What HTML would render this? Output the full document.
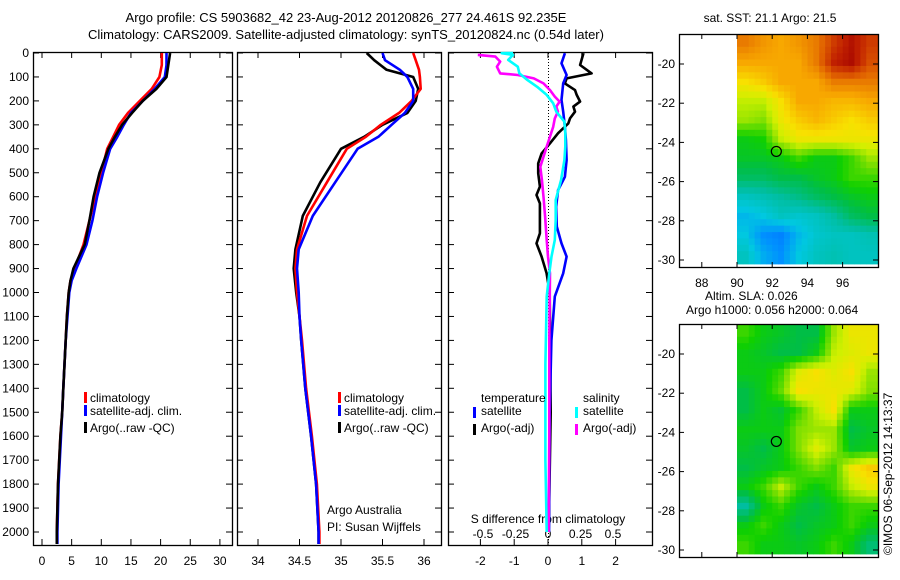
<!DOCTYPE html>
<html><head><meta charset="utf-8"><style>
body{margin:0;background:#fff;}
svg{display:block;font-family:"Liberation Sans",sans-serif;}
text{font-size:12px;fill:#000;}
</style></head><body>
<svg id="fig" width="900" height="580" viewBox="0 0 900 580" xmlns="http://www.w3.org/2000/svg">
<text x="346" y="22" text-anchor="middle" style="font-size:13px">Argo profile: CS 5903682_42 23-Aug-2012 20120826_277 24.461S 92.235E</text>
<text x="346" y="39" text-anchor="middle" style="font-size:13px">Climatology: CARS2009. Satellite-adjusted climatology: synTS_20120824.nc (0.54d later)</text>
<text x="770" y="22" text-anchor="middle">sat. SST: 21.1 Argo: 21.5</text>
<text x="705" y="300">Altim. SLA: 0.026</text>
<text x="686" y="314">Argo h1000: 0.056 h2000: 0.064</text>
<text transform="translate(892,555) rotate(-90)">©IMOS 06-Sep-2012 14:13:37</text>
<g id="g"></g>
</svg>
<script>
// ---------- data ----------
const depthTicks=[0,100,200,300,400,500,600,700,800,900,1000,1100,1200,1300,1400,1500,1600,1700,1800,1900,2000];
const tTicks=[0,5,10,15,20,25,30];
const sTicks=[34,34.5,35,35.5,36];
const dTicks=[-2,-1,0,1,2];
const sdTickLabels=['-0.5','-0.25','0','0.25','0.5'];
const sdTicks=[-0.5,-0.25,0,0.25,0.5];
const latTicks=[-20,-22,-24,-26,-28,-30];
const lonTicks=[88,90,92,94,96];

const tDepth=[0,50,100,150,200,250,300,350,400,500,600,700,800,900,950,1000,1100,1200,1300,1400,1500,1600,1700,1800,1900,2000,2050];
const tClim=[20.2,20.2,19.8,18.5,16.5,14.5,13,12,11,10,9,8,7,5.5,4.8,4.5,4.2,4,3.8,3.6,3.4,3.1,2.9,2.7,2.6,2.5,2.5];
const tSat=[21,21,20.7,19,17,15,13.8,12.7,11.5,10.3,9.3,8.5,7.5,5.8,5,4.6,4.3,4,3.8,3.6,3.4,3.2,3,2.8,2.7,2.6,2.6];
const tArgo=[21.6,21.3,21,19.3,17,15.2,13.5,12.3,11.2,9.7,8.7,8,7.2,5.3,4.8,4.5,4.2,4,3.8,3.6,3.4,3.1,2.9,2.7,2.6,2.5,2.5];

const sDepth=[0,30,70,100,150,200,250,300,350,400,540,680,820,900,1000,1100,1200,1400,1600,1800,2000,2050];
const sClim=[35.87,35.9,35.94,35.95,35.96,35.85,35.7,35.48,35.3,35.07,34.83,34.59,34.47,34.45,34.47,34.5,34.53,34.58,34.65,34.71,34.74,34.74];
const sSat=[35.5,35.53,35.71,35.8,35.87,35.87,35.77,35.61,35.45,35.2,34.93,34.66,34.49,34.47,34.49,34.5,34.52,34.57,34.64,34.7,34.73,34.73];
const sArgo=[35.31,35.4,35.55,35.87,35.93,35.9,35.8,35.5,35.28,35.0,34.75,34.54,34.45,34.43,34.46,34.5,34.52,34.57,34.64,34.7,34.73,34.73];

const dtDepth=[1,50,85,106,127,155,175,203,224,245,273,294,335,377,419,461,502,558,593,628,697,753,795,850,920,1000,1500,2000];
const dtArgo=[1.05,0.95,1.29,0.55,0.5,0.8,0.85,0.95,0.75,0.8,0.65,0.6,0.3,0.06,-0.19,-0.29,-0.29,-0.24,-0.34,-0.24,-0.24,-0.24,-0.34,-0.19,-0.04,0.05,0.08,0.02];
const dtSatDepth=[1,43,92,127,196,245,308,363,447,517,572,642,725,795,850,920,1017,1200,1500,2000];
const dtSat=[0.5,0.4,0.55,0.45,0.4,0.45,0.5,0.53,0.55,0.5,0.3,0.24,0.26,0.4,0.55,0.45,0.2,0.1,0.05,0.03];
const dsArgoDepth=[8,15,36,57,85,92,106,127,155,182,203,224,245,273,308,349,391,433,475,530,600,683,781,850,920,1200,1600,2000];
const dsArgo=[-0.54,-0.405,-0.368,-0.393,-0.368,-0.232,-0.109,-0.035,0.015,0.052,0.089,0.064,0.076,0.052,0.04,0.015,-0.01,-0.035,-0.059,-0.047,-0.035,-0.022,-0.01,0,0.015,0.01,0.01,0.005];
const dsSatDepth=[0,1,8,29,57,85,113,141,175,210,245,287,335,391,447,530,614,697,781,850,920,1017,1300,1700,2000];
const dsSat=[-0.269,-0.356,-0.269,-0.306,-0.232,-0.22,-0.158,-0.084,-0.01,0.04,0.064,0.126,0.133,0.133,0.126,0.101,0.059,0.059,0.052,0.027,0.01,-0.01,-0.02,-0.02,-0.01];

const sstGrid=[
[0.85,0.82,0.8,0.82,0.85,0.92,0.97,0.92],
[0.8,0.8,0.8,0.8,0.85,0.95,0.98,0.9],
[0.72,0.75,0.8,0.8,0.8,0.85,0.85,0.85],
[0.65,0.65,0.72,0.8,0.8,0.78,0.78,0.8],
[0.62,0.6,0.7,0.75,0.78,0.75,0.72,0.75],
[0.5,0.52,0.65,0.7,0.7,0.7,0.7,0.7],
[0.48,0.48,0.5,0.55,0.5,0.5,0.55,0.62],
[0.42,0.42,0.45,0.45,0.48,0.5,0.55,0.55],
[0.3,0.32,0.35,0.38,0.42,0.45,0.48,0.5],
[0.22,0.25,0.3,0.28,0.3,0.35,0.42,0.45],
[0.25,0.15,0.12,0.22,0.28,0.3,0.3,0.32],
[0.3,0.2,0.15,0.25,0.3,0.32,0.3,0.3]];
const slaGrid=[
[0.55,0.5,0.48,0.45,0.45,0.62,0.7,0.7],
[0.5,0.48,0.45,0.45,0.5,0.65,0.68,0.7],
[0.5,0.5,0.55,0.68,0.72,0.68,0.72,0.62],
[0.45,0.5,0.58,0.72,0.7,0.7,0.68,0.6],
[0.45,0.5,0.47,0.55,0.65,0.72,0.5,0.5],
[0.5,0.5,0.5,0.6,0.62,0.62,0.45,0.48],
[0.48,0.45,0.5,0.6,0.68,0.62,0.48,0.5],
[0.45,0.48,0.5,0.55,0.6,0.55,0.7,0.75],
[0.5,0.55,0.65,0.55,0.5,0.55,0.65,0.7],
[0.35,0.5,0.55,0.48,0.45,0.5,0.55,0.55],
[0.5,0.55,0.5,0.45,0.48,0.5,0.55,0.5],
[0.55,0.5,0.5,0.48,0.5,0.55,0.5,0.4]];
const floatLon=92.235, floatLat=-24.461;

// ---------- helpers ----------
const NS='http://www.w3.org/2000/svg';
const G=document.getElementById('g');
function el(tag,attrs,parent){const e=document.createElementNS(NS,tag);for(const k in attrs)e.setAttribute(k,attrs[k]);(parent||G).appendChild(e);return e;}
const yD=d=>53+d*0.2395;
const xT=t=>42+t*5.93;
const xS=s=>258+(s-34)*83;
const xDT=v=>548+v*33.8;
const xDS=v=>548+v*130;

function box(x0,y0,x1,y1,name){const r=el('rect',{x:x0+.5,y:y0+.5,width:x1-x0,height:y1-y0,fill:'none',stroke:'#000','stroke-width':1.3});
}
function line(xs,ys,color,name,w){const pts=xs.map((x,i)=>x.toFixed(1)+','+ys[i].toFixed(1)).join(' ');
const p=el('polyline',{points:pts,fill:'none',stroke:color,'stroke-width':w||2.6,'stroke-linejoin':'round'});
}
function txt(x,y,s,anchor,name){const t=el('text',{x:x,y:y,'text-anchor':anchor||'start'});t.textContent=s;
return t;}

// panels
const panels=[[33,52,232,545],[237,52,441,545],[448,52,652,545]];
panels.forEach((p,i)=>{
  box(p[0],p[1],p[2],p[3],'panel-frame-'+(i+1));
  depthTicks.forEach(d=>{const y=yD(d);el('line',{x1:p[0],x2:p[0]+6,y1:y,y2:y,stroke:'#000'});el('line',{x1:p[2]-6,x2:p[2],y1:y,y2:y,stroke:'#000'});});
});
depthTicks.forEach(d=>txt(29,yD(d)+4,String(d),'end','depth-tick-label'));
tTicks.forEach(t=>{const x=xT(t);el('line',{x1:x,x2:x,y1:52,y2:58,stroke:'#000'});el('line',{x1:x,x2:x,y1:539,y2:545,stroke:'#000'});txt(x,565,String(t),'middle','temperature-tick-label');});
sTicks.forEach(s=>{const x=xS(s);el('line',{x1:x,x2:x,y1:52,y2:58,stroke:'#000'});el('line',{x1:x,x2:x,y1:539,y2:545,stroke:'#000'});txt(x,565,String(s),'middle','salinity-tick-label');});
dTicks.forEach(v=>{const x=xDT(v);el('line',{x1:x,x2:x,y1:52,y2:58,stroke:'#000'});el('line',{x1:x,x2:x,y1:539,y2:545,stroke:'#000'});txt(x,565,String(v),'middle','difference-tick-label');});
sdTicks.forEach((v,i)=>txt(xDS(v),538,sdTickLabels[i],'middle','s-difference-tick-label'));
txt(548,523,'S difference from climatology','middle','s-difference-axis-title');
const zl=el('line',{x1:548.5,x2:548.5,y1:53,y2:544,stroke:'#000','stroke-dasharray':'1,2'});


// series
line(tClim.map(xT),tDepth.map(yD),'#f00','temp-climatology-line');
line(tSat.map(xT),tDepth.map(yD),'#00f','temp-satellite-line');
line(tArgo.map(xT),tDepth.map(yD),'#000','temp-argo-line');
line(sArgo.map(xS),sDepth.map(yD),'#000','sal-argo-line');
line(sClim.map(xS),sDepth.map(yD),'#f00','sal-climatology-line');
line(sSat.map(xS),sDepth.map(yD),'#00f','sal-satellite-line');
line(dtArgo.map(xDT),dtDepth.map(yD),'#000','tdiff-argo-line');
line(dtSat.map(xDT),dtSatDepth.map(yD),'#00f','tdiff-satellite-line');
line(dsArgo.map(xDS),dsArgoDepth.map(yD),'#f0f','sdiff-argo-line');
line(dsSat.map(xDS),dsSatDepth.map(yD),'#0ff','sdiff-satellite-line');

// legends
function mark(x,y,c,name){const r=el('rect',{x:x,y:y-10,width:3,height:11,fill:c});}
[[84],[338]].forEach((o,k)=>{const x=o[0];
 mark(x,402,'#f00','legend-climatology-marker');txt(x+6,402,'climatology','start','legend-climatology');
 mark(x,415,'#00f','legend-satellite-marker');txt(x+6,415,'satellite-adj. clim.','start','legend-satellite-adj');
 mark(x,432,'#000','legend-argo-marker');txt(x+6,432,'Argo(..raw -QC)','start','legend-argo');});
txt(327,514,'Argo Australia','start','credit-line-1');
txt(327,531,'PI: Susan Wijffels','start','credit-line-2');
txt(481,402,'temperature','start','legend-temperature-title');
mark(473,417,'#00f','legend-tsat-marker');txt(481,415,'satellite','start','legend-t-satellite');
mark(473,434,'#000','legend-targo-marker');txt(481,432,'Argo(-adj)','start','legend-t-argo');
txt(583,402,'salinity','start','legend-salinity-title');
mark(575,417,'#0ff','legend-ssat-marker');txt(583,415,'satellite','start','legend-s-satellite');
mark(575,434,'#f0f','legend-sargo-marker');txt(583,432,'Argo(-adj)','start','legend-s-argo');

// maps
const stops=[[0,[0,80,255]],[0.15,[0,144,255]],[0.25,[0,200,224]],[0.35,[0,190,160]],[0.45,[0,190,70]],[0.52,[16,208,0]],[0.6,[128,224,0]],[0.66,[208,240,0]],[0.72,[248,224,0]],[0.8,[248,168,0]],[0.88,[224,96,0]],[0.95,[192,32,0]],[1,[160,0,0]]];
function cmap(v){for(let i=1;i<stops.length;i++){if(v<=stops[i][0]){const a=stops[i-1],b=stops[i],f=(v-a[0])/(b[0]-a[0]);return 'rgb('+a[1].map((c,j)=>Math.round(c+(b[1][j]-c)*f)).join(',')+')';}}return 'rgb(160,0,0)';}
function drawMap(grid,top,name){
 const latY=lat=>top+30+(-20-lat)*19.6;
 const lonX=lon=>737+(lon-90)*17.6;
 const x0=737,x1=878,y0=top,y1=top+230, R=grid.length, C=grid[0].length, S=3;
 const cw=(x1-x0)/(C*S), ch=(y1-y0)/(R*S);
 for(let r=0;r<R*S;r++)for(let c=0;c<C*S;c++){
  const fr=Math.min(Math.max((r+0.5)/S-0.5,0),R-1), fc=Math.min(Math.max((c+0.5)/S-0.5,0),C-1);
  const r0=Math.floor(fr),c0=Math.floor(fc),r1=Math.min(r0+1,R-1),c1=Math.min(c0+1,C-1),a=fr-r0,b=fc-c0;
  const v=grid[r0][c0]*(1-a)*(1-b)+grid[r0][c1]*(1-a)*b+grid[r1][c0]*a*(1-b)+grid[r1][c1]*a*b;
  const q=el('rect',{x:(x0+c*cw).toFixed(2),y:(y0+r*ch).toFixed(2),width:(cw+0.4).toFixed(2),height:(ch+0.4).toFixed(2),fill:cmap(v)});
  }
 box(679,top,878,top+233,name+'-frame');
 latTicks.forEach(l=>{const y=latY(l);el('line',{x1:679,x2:684,y1:y,y2:y,stroke:'#000'});el('line',{x1:873,x2:878,y1:y,y2:y,stroke:'#000'});txt(675,y+4,String(l),'end',name+'-lat-label');});
 lonTicks.forEach(l=>{const x=lonX(l);el('line',{x1:x,x2:x,y1:top,y2:top+5,stroke:'#000'});el('line',{x1:x,x2:x,y1:top+228,y2:top+233,stroke:'#000'});});
 const ci=el('circle',{cx:lonX(floatLon),cy:latY(floatLat),r:5,fill:'none',stroke:'#000','stroke-width':1.2});
 
 return lonX;}
const lx=drawMap(sstGrid,34,'sst-map');
lonTicks.forEach(l=>txt(lx(l),287,String(l),'middle','sst-map-lon-label'));
drawMap(slaGrid,324,'sla-map');
</script>
</body></html>
